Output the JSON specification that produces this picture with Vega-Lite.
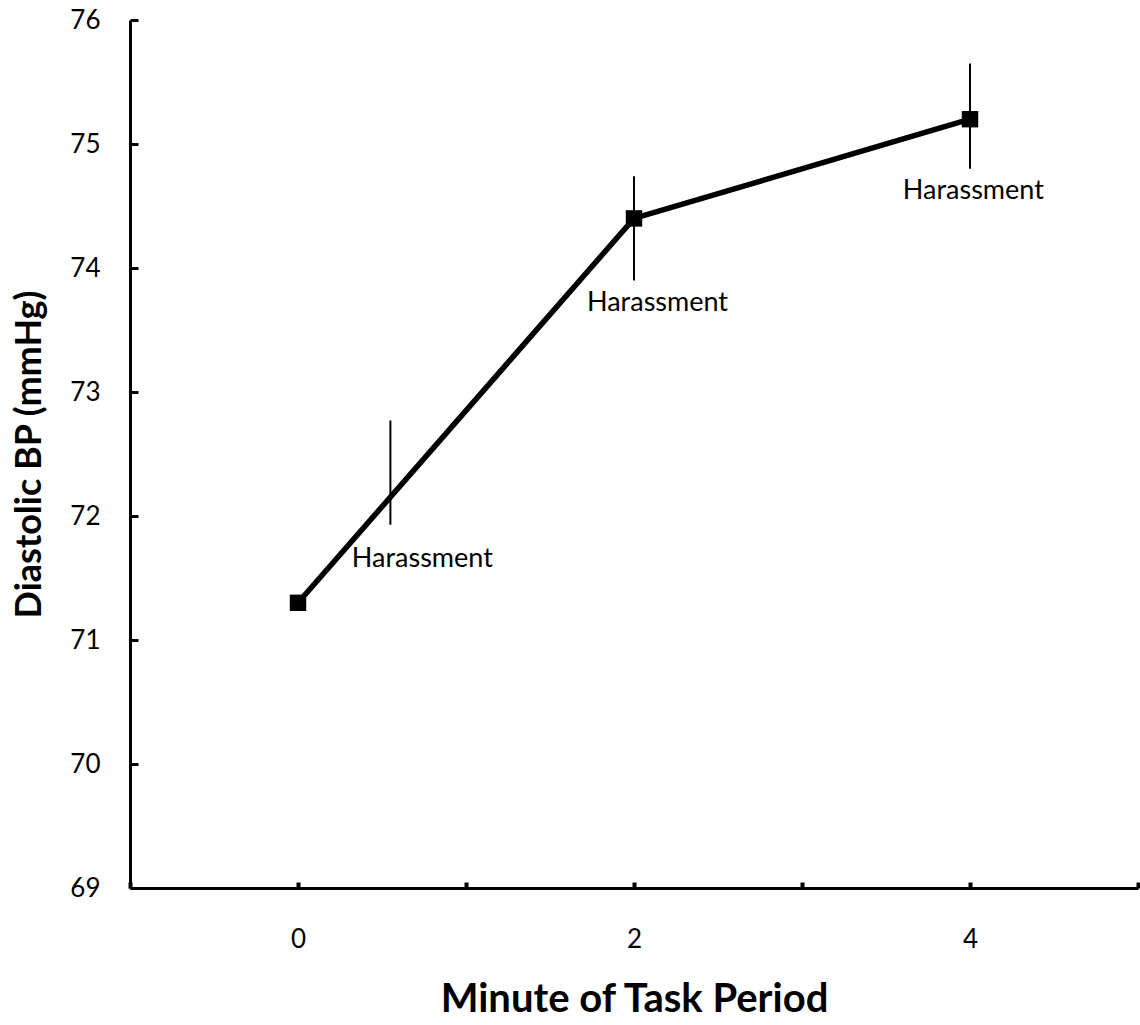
{
  "$schema": "https://vega.github.io/schema/vega-lite/v6.json",
  "width": 1008,
  "height": 868,
  "autosize": "none",
  "padding": {"left": 130, "top": 20, "right": 2, "bottom": 137},
  "background": "white",
  "config": {
    "view": {"stroke": null},
    "font": "Lato",
    "axis": {
      "grid": false,
      "domainColor": "black",
      "domainWidth": 3,
      "tickColor": "black",
      "labelColor": "black",
      "titleColor": "black",
      "labelFont": "Lato",
      "titleFont": "Lato",
      "labelFontSize": 26,
      "titleFontWeight": "bold",
      "format": "d"
    }
  },
  "datasets": {
    "means": [
      {"minute": 0, "dbp": 71.3},
      {"minute": 2, "dbp": 74.4},
      {"minute": 4, "dbp": 75.2}
    ],
    "errors": [
      {"minute": 0.55, "low": 71.93, "high": 72.77},
      {"minute": 2, "low": 73.9, "high": 74.74},
      {"minute": 4, "low": 74.8, "high": 75.65}
    ],
    "notes": [
      {"minute": 0.74, "dbp": 71.59, "label": "Harassment"},
      {"minute": 2.14, "dbp": 73.65, "label": "Harassment"},
      {"minute": 4.02, "dbp": 74.56, "label": "Harassment"}
    ]
  },
  "layer": [
    {
      "data": {"name": "means"},
      "mark": {"type": "line", "color": "black", "strokeWidth": 5.5},
      "encoding": {
        "x": {
          "field": "minute",
          "type": "quantitative",
          "scale": {"domain": [-1, 5], "nice": false, "zero": false},
          "axis": {
            "title": "Minute of Task Period",
            "titleFontSize": 40,
            "values": [-1, 0, 1, 2, 3, 4, 5],
            "labelExpr": "(datum.value == 0 || datum.value == 2 || datum.value == 4) ? datum.label : ''",
            "tickSize": -6,
            "tickWidth": 4,
            "labelPadding": 44,
            "titlePadding": 27
          }
        },
        "y": {
          "field": "dbp",
          "type": "quantitative",
          "scale": {"domain": [69, 76], "nice": false, "zero": false},
          "axis": {
            "title": "Diastolic BP (mmHg)",
            "titleFontSize": 36,
            "values": [69, 70, 71, 72, 73, 74, 75, 76],
            "tickSize": -8,
            "tickWidth": 3,
            "labelPadding": 38,
            "titleX": -101,
            "titleY": 434,
            "titleAngle": -90,
            "titleAlign": "center",
            "titleBaseline": "middle"
          }
        }
      }
    },
    {
      "data": {"name": "errors"},
      "mark": {"type": "rule", "color": "black", "strokeWidth": 2},
      "encoding": {
        "x": {"field": "minute", "type": "quantitative"},
        "y": {"field": "low", "type": "quantitative"},
        "y2": {"field": "high"}
      }
    },
    {
      "data": {"name": "means"},
      "mark": {"type": "point", "shape": "square", "filled": true, "color": "black", "opacity": 1, "size": 270},
      "encoding": {
        "x": {"field": "minute", "type": "quantitative"},
        "y": {"field": "dbp", "type": "quantitative"}
      }
    },
    {
      "data": {"name": "notes"},
      "mark": {"type": "text", "font": "Lato", "fontSize": 27, "color": "black", "align": "center", "baseline": "alphabetic"},
      "encoding": {
        "x": {"field": "minute", "type": "quantitative"},
        "y": {"field": "dbp", "type": "quantitative"},
        "text": {"field": "label"}
      }
    }
  ]
}
